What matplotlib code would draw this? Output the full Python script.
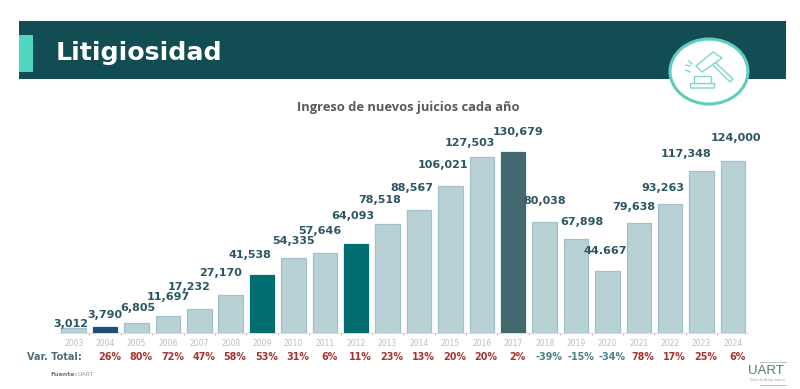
import numpy as np
import matplotlib
matplotlib.use("Agg")
import matplotlib.pyplot as plt
from matplotlib.patches import Rectangle, Ellipse, FancyBboxPatch, Polygon

years = [2003, 2004, 2005, 2006, 2007, 2008, 2009, 2010, 2011, 2012, 2013, 2014,
         2015, 2016, 2017, 2018, 2019, 2020, 2021, 2022, 2023, 2024]
juicios = [3012, 3790, 6805, 11697, 17232, 27170, 41538, 54335, 57646, 64093, 78518,
           88567, 106021, 127503, 130679, 80038, 67898, 44667, 79638, 93263, 117348, 124000]
juicios_txt = ["3,012", "3,790", "6,805", "11,697", "17,232", "27,170", "41,538", "54,335",
               "57,646", "64,093", "78,518", "88,567", "106,021", "127,503", "130,679",
               "80,038", "67,898", "44.667", "79,638", "93,263", "117,348", "124,000"]
var_total = ["", "26%", "80%", "72%", "47%", "58%", "53%", "31%", "6%", "11%", "23%", "13%",
             "20%", "20%", "2%", "-39%", "-15%", "-34%", "78%", "17%", "25%", "6%"]
destacados = {2004: "#1f4e79", 2009: "#006d70", 2012: "#006d70", 2017: "#41696e"}

W, H = 800, 389
fig = plt.figure(figsize=(8, 3.89), dpi=100)

# capa en pixeles para el encabezado y el icono
bg = fig.add_axes([0, 0, 1, 1])
bg.set_xlim(0, W)
bg.set_ylim(H, 0)
bg.axis("off")

bg.add_patch(Rectangle((19, 21), 767, 58, color="#124d54", lw=0))
bg.add_patch(Rectangle((19, 35), 14, 37, color="#4fd6bd", lw=0))
bg.text(56, 53, "Litigiosidad", color="white", fontsize=18.2, fontweight="bold",
        family="DejaVu Sans", va="center", ha="left")
bg.add_patch(Ellipse((709, 71.5), 78, 65, fc="white", ec="#5fcdb9", lw=2.2))

# martillo
c = "#7fd8c8"
bg.add_patch(FancyBboxPatch((691, 84), 23, 3.5, boxstyle="round,pad=0.5", fc="white", ec=c, lw=1))
bg.add_patch(FancyBboxPatch((695, 77), 16, 6, boxstyle="round,pad=0.5", fc="white", ec=c, lw=1))
bg.add_patch(Polygon([(712, 64), (715, 62), (733, 79), (730, 82)], closed=True, fc="white", ec=c, lw=1))
bg.add_patch(Polygon([(696, 66), (702, 72), (722, 58), (713, 52)], closed=True, fc="white", ec=c, lw=1))
for x0, y0, x1, y1 in [(686, 70, 690, 72), (686, 65, 690, 66), (689, 61, 692, 64)]:
    bg.plot([x0, x1], [y0, y1], color=c, lw=1)

bg.text(408, 107, "Ingreso de nuevos juicios cada año", color="#5a5a5a", fontsize=9.3,
        fontweight="bold", family="Open Sans", ha="center", va="center")
bg.text(27, 357, "Var. Total:", color="#4f6f78", fontsize=7.0, fontweight="bold",
        ha="left", va="center")
bg.text(50, 375, "Fuente:", color="#777777", fontsize=4.5, fontweight="bold", ha="left", va="center")
bg.text(77, 375, "UART", color="#9a9a9a", fontsize=4.5, ha="left", va="center")

# logo
bg.text(766, 371, "UART", color="#55777f", fontsize=9.5, family="Liberation Sans", ha="center", va="center")
bg.plot([760, 786], [362, 362], color="#b5c4c6", lw=0.7)
bg.plot([760, 786], [385, 385], color="#b5c4c6", lw=0.7)
bg.text(767, 380, "Unión de Aseguradoras", color="#a0a0a0", fontsize=2.2, ha="center", va="center")

# grafico
ax = fig.add_axes([58 / W, (H - 332.5) / H, 690 / W, 200.5 / H])
ax.patch.set_alpha(0)
x = np.arange(len(years))
colores = [destacados.get(y, "#b7d1d4") for y in years]
bordes = [destacados.get(y, "#a3c0ca") for y in years]
ax.bar(x, juicios, width=0.78, color=colores, edgecolor=bordes, linewidth=0.9)
ax.set_xlim(-0.5, 21.48)
ax.set_ylim(0, 145300)
ax.set_yticks([])
for s in ["top", "left", "right"]:
    ax.spines[s].set_visible(False)
ax.spines["bottom"].set_color("#d5d5d5")
ax.spines["bottom"].set_linewidth(0.6)
ax.set_xticks(x)
ax.set_xticklabels(years, fontsize=5.5, color="#bdbdbd")
ax.tick_params(axis="x", length=0, pad=4.5)
ax.set_xticks(x[:-1] + 0.5, minor=True)
ax.tick_params(axis="x", which="minor", length=1.5, color="#b0b0b0", width=0.6)

# desplazamiento de las etiquetas respecto a la barra (pixeles)
label_dx = [-2.6, -0.5, 1.6, 0.2, -10.2, -10, -12, -0.4, -4.8, -3.7, -7.6, -7, -7.4, -11.8,
            4.8, 0.4, 6, -1.9, -5.3, -7.2, -15.1, 3.5]
label_dy = [4.3, 12.3, 15.1, 19.4, 21.7, 22, 20.2, 16.5, 22, 28, 24.1, 22.3, 21.2, 13.5,
            20.2, 21, 16.8, 19.9, 15.6, 15.8, 16.6, 23.4]
for i, (v, t) in enumerate(zip(juicios, juicios_txt)):
    ax.annotate(t, (x[i], v), xytext=(label_dx[i], label_dy[i]), textcoords="offset pixels",
                ha="center", va="center", fontsize=8.0, fontweight="bold", color="#2b5563")

trans = ax.get_xaxis_transform()
for i, t in enumerate(var_total):
    col = "#4d7f88" if t.startswith("-") else "#a83232"
    ax.annotate(t, (x[i], 0), xycoords=trans, xytext=(3.2, -17.5), textcoords="offset points",
                ha="center", va="center", fontsize=6.9, fontweight="bold", color=col)

fig.savefig("out.png", dpi=100)
